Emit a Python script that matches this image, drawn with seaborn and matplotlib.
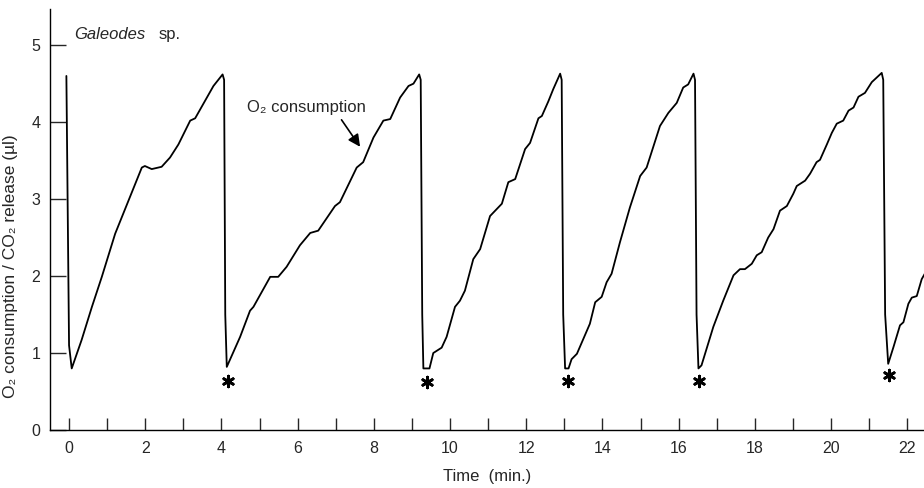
import pandas as pd
import seaborn as sns
import matplotlib.pyplot as plt

# Trace values (time in min, volume in µl)
time = [-0.07, 0.00, 0.07, 0.33, 0.60, 0.86, 1.21, 1.56, 1.91, 1.99, 2.17, 2.43, 2.65, 2.87,
        3.18, 3.31, 3.79, 4.03, 4.07, 4.10, 4.14,
        4.49, 4.75, 4.84, 5.28, 5.49, 5.71, 6.06, 6.33, 6.54, 6.98, 7.11, 7.55, 7.72, 7.99,
        8.25, 8.43, 8.69, 8.91, 9.04, 9.19, 9.23, 9.27, 9.30, 9.46,
        9.56, 9.78, 9.91, 10.13, 10.26, 10.39, 10.61, 10.79, 11.05, 11.36, 11.53, 11.71,
        11.97, 12.10, 12.32, 12.41, 12.58, 12.71, 12.89, 12.93, 12.97, 13.02, 13.11,
        13.19, 13.33, 13.67, 13.81, 13.98, 14.11, 14.24, 14.46, 14.72, 14.99, 15.16, 15.51,
        15.73, 15.95, 16.12, 16.25, 16.39, 16.43, 16.47, 16.52,
        16.60, 16.91, 17.17, 17.44, 17.61, 17.74, 17.92, 18.05, 18.18, 18.35, 18.49, 18.66,
        18.84, 19.01, 19.10, 19.32, 19.45, 19.62, 19.71, 19.89, 20.02, 20.15, 20.32, 20.46,
        20.59, 20.72, 20.89, 21.07, 21.33, 21.37, 21.42, 21.50,
        21.64, 21.81, 21.90, 22.03, 22.12, 22.25, 22.38, 22.46]
o2 = [4.60, 1.10, 0.80, 1.17, 1.60, 1.99, 2.55, 2.98, 3.41, 3.43, 3.39, 3.42, 3.54, 3.71,
      4.02, 4.05, 4.47, 4.62, 4.55, 1.50, 0.82,
      1.21, 1.55, 1.60, 1.99, 1.99, 2.12, 2.40, 2.56, 2.59, 2.91, 2.96, 3.41, 3.48, 3.80,
      4.02, 4.04, 4.32, 4.47, 4.50, 4.62, 4.55, 1.50, 0.80, 0.80,
      1.00, 1.07, 1.21, 1.60, 1.68, 1.81, 2.22, 2.35, 2.78, 2.94, 3.22, 3.26,
      3.65, 3.73, 4.05, 4.08, 4.27, 4.43, 4.63, 4.55, 1.50, 0.80, 0.80,
      0.92, 0.99, 1.38, 1.66, 1.73, 1.92, 2.03, 2.44, 2.89, 3.30, 3.41, 3.95,
      4.12, 4.25, 4.45, 4.49, 4.63, 4.55, 1.50, 0.80,
      0.84, 1.34, 1.68, 2.01, 2.09, 2.09, 2.16, 2.27, 2.31, 2.50, 2.61, 2.85,
      2.91, 3.07, 3.17, 3.24, 3.33, 3.48, 3.51, 3.71, 3.86, 3.98, 4.02, 4.15,
      4.19, 4.33, 4.38, 4.52, 4.64, 4.55, 1.50, 0.86,
      1.08, 1.36, 1.40, 1.64, 1.72, 1.74, 1.96, 2.03]

# Asterisks marking the start of each burst
star_time = [4.18, 9.39, 13.10, 16.54, 21.52]
star_o2 = [0.64, 0.63, 0.64, 0.64, 0.71]

df = pd.DataFrame({'time': time, 'o2': o2})
df_star = pd.DataFrame({'time': star_time, 'o2': star_o2})

sns.set_style('ticks')
plt.rcParams['font.family'] = ['Liberation Sans', 'DejaVu Sans']

fig = plt.figure(figsize=(9.24, 4.88), dpi=100)
ax = fig.add_axes([50 / 924, 58 / 488, 874 / 924, 421 / 488])

sns.lineplot(data=df, x='time', y='o2', sort=False, estimator=None,
             color='black', linewidth=1.3, ax=ax)
sns.scatterplot(data=df_star, x='time', y='o2', marker=(6, 2, 0), s=60,
                color='black', linewidth=2.0, ax=ax)

ax.set_xlim(-0.5, 22.44)
ax.set_ylim(0, 5.47)
ax.set_xticks(range(0, 23, 2))
ax.set_xticks(range(1, 23, 2), minor=True)
ax.set_yticks(range(0, 6))
ax.tick_params(axis='x', which='both', direction='in', length=8.5, width=1,
               pad=8, labelsize=11.5)
ax.tick_params(axis='y', direction='in', length=11.5, width=1, pad=7, labelsize=11.5)
sns.despine(ax=ax)
for s in ['left', 'bottom']:
    ax.spines[s].set_linewidth(1)
    ax.spines[s].set_color('black')

ax.set_xlabel('Time  (min.)', fontsize=12, labelpad=9)
ax.set_ylabel('O₂ consumption / CO₂ release (µl)', fontsize=12.5)
ax.yaxis.set_label_coords(-0.037, 0.39)

ax.text(0.13, 5.14, 'Galeodes', fontsize=12, style='italic', va='center')
ax.text(2.34, 5.14, 'sp.', fontsize=12, va='center')

ax.text(4.67, 4.19, 'O₂ consumption', fontsize=12, va='center')
ax.annotate('', xy=(7.68, 3.65), xytext=(7.11, 4.06),
            arrowprops=dict(arrowstyle='-|>', color='black', lw=1.2, mutation_scale=18))

fig.savefig('out.png', dpi=100)
